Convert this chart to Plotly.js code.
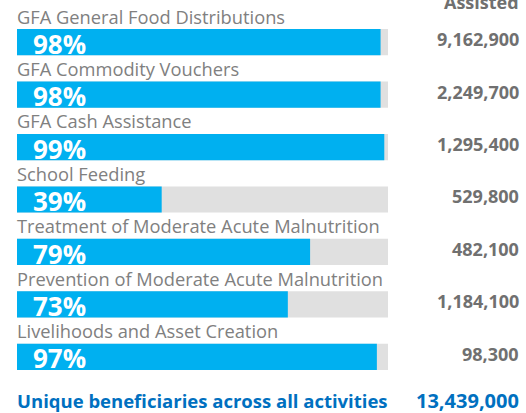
<!DOCTYPE html>
<html>
<head>
<meta charset="utf-8">
<script src="https://cdn.plot.ly/plotly-3.0.1.min.js"></script>
<style>html,body{margin:0;padding:0;background:#fff;}#chart{width:526px;height:413px;}</style>
</head>
<body>
<div id="chart"></div>
<script>
const activities = [
  "GFA General Food Distributions",
  "GFA Commodity Vouchers",
  "GFA Cash Assistance",
  "School Feeding",
  "Treatment of Moderate Acute Malnutrition",
  "Prevention of Moderate Acute Malnutrition",
  "Livelihoods and Asset Creation"
];
const percentReached = [98, 98, 99, 39, 79, 73, 97];
const assisted = [9162900, 2249700, 1295400, 529800, 482100, 1184100, 98300];
const fullScale = [100, 100, 100, 100, 100, 100, 100];
const totalLabel = "Unique beneficiaries across all activities";
const totalAssisted = 13439000;
const columnHeader = "Assisted";

const fmt = n => n.toLocaleString("en-US");
const idx = activities.map((_, i) => i);

const FONT = "Open Sans, Noto Sans, sans-serif";
const GREY_TEXT = "#808080";
const NUM_TEXT = "#707070";
const BLUE = "#00B0F0";
const DARK_BLUE = "#0070C0";

const traces = [
  {type: "bar", orientation: "h", y: idx, x: fullScale, width: 0.5,
   marker: {color: "#E0E0E0"}, hoverinfo: "skip", showlegend: false},
  {type: "bar", orientation: "h", y: idx, x: percentReached, width: 0.5,
   marker: {color: BLUE}, hoverinfo: "skip", showlegend: false}
];

const annotations = [];
idx.forEach(i => {
  annotations.push({xref: "paper", yref: "y", x: 0, xshift: -2, y: i - 0.5, xanchor: "left", yanchor: "middle",
    text: activities[i], showarrow: false, font: {family: FONT, size: 18.3, color: GREY_TEXT}});
  annotations.push({xref: "paper", yref: "y", x: 0, xshift: 14, y: i + 0.03, xanchor: "left", yanchor: "middle",
    text: "<b>" + percentReached[i] + "%</b>", showarrow: false, font: {family: FONT, size: 26, color: "#ffffff"}});
  annotations.push({xref: "paper", yref: "y", x: 1, xshift: 133, y: i - 0.06, xanchor: "right", yanchor: "middle",
    text: "<b>" + fmt(assisted[i]) + "</b>", showarrow: false, font: {family: FONT, size: 18, color: NUM_TEXT}});
});
annotations.push({xref: "paper", yref: "paper", x: 1, xshift: 133, y: 1, yshift: 0, xanchor: "right", yanchor: "bottom",
  text: "<b>" + columnHeader + "</b>", showarrow: false, font: {family: FONT, size: 18, color: NUM_TEXT}});
annotations.push({xref: "paper", yref: "paper", x: 0, xshift: -2, y: 0, yshift: -17, xanchor: "left", yanchor: "middle",
  text: "<b>" + totalLabel + "</b>", showarrow: false, font: {family: FONT, size: 18.5, color: DARK_BLUE}});
annotations.push({xref: "paper", yref: "paper", x: 1, xshift: 133, y: 0, yshift: -17, xanchor: "right", yanchor: "middle",
  text: "<b>" + fmt(totalAssisted) + "</b>", showarrow: false, font: {family: FONT, size: 20, color: DARK_BLUE}});

const layout = {
  width: 526, height: 413,
  margin: {l: 17, r: 138, t: 16, b: 30, pad: 0},
  paper_bgcolor: "#ffffff", plot_bgcolor: "#ffffff",
  barmode: "overlay",
  xaxis: {range: [0, 100], visible: false, fixedrange: true},
  yaxis: {range: [6.5, -0.5], visible: false, fixedrange: true},
  annotations: annotations,
  font: {family: FONT}
};

Plotly.newPlot("chart", traces, layout, {displayModeBar: false, staticPlot: true});
</script>
</body>
</html>
